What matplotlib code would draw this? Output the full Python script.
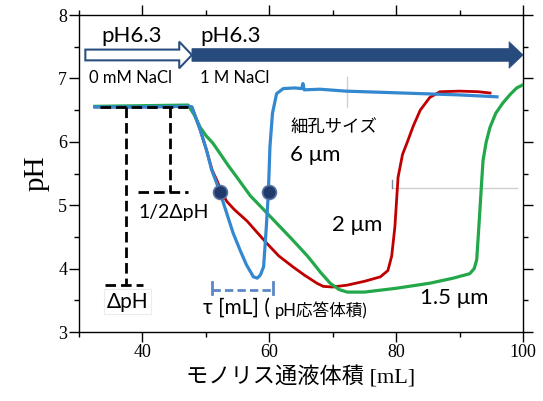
import matplotlib.pyplot as plt
from matplotlib.patches import FancyArrow
from matplotlib.ticker import MultipleLocator

# 細孔サイズ 6 μm
blue_x = [32.5, 40.0, 47.2, 47.8, 49.1, 50.1, 50.9, 51.7, 52.2, 53.3, 54.3, 55.4, 56.4, 57.5, 58.1,
          58.6, 59.1, 59.5, 59.85, 60.1, 60.5, 61.15, 62.2, 64.0, 65.1, 65.3, 65.5, 68.0, 72.0, 78.0,
          84.0, 90.0, 95.9]
blue_y = [6.55, 6.55, 6.56, 6.55, 6.19, 5.87, 5.56, 5.35, 5.21, 4.87, 4.56, 4.29, 4.06, 3.87, 3.85,
          3.90, 4.03, 4.61, 5.19, 5.92, 6.45, 6.76, 6.84, 6.85, 6.84, 6.92, 6.82, 6.83, 6.80, 6.78,
          6.76, 6.74, 6.71]

# 2 μm
red_x = [32.5, 40.0, 47.2, 47.8, 49.1, 50.1, 51.0, 51.8, 52.5, 53.3, 54.5, 56.5, 58.0, 59.6, 61.5,
         63.7, 65.5, 67.5, 68.5, 70.0, 72.3, 75.0, 77.5, 78.7, 79.3, 79.8, 80.3, 81.0, 81.7, 82.7,
         83.8, 85.3, 86.9, 90.0, 93.0, 94.8]
red_y = [6.55, 6.55, 6.56, 6.55, 6.19, 5.87, 5.55, 5.38, 5.20, 5.06, 4.93, 4.75, 4.58, 4.40, 4.20,
         4.03, 3.90, 3.77, 3.72, 3.71, 3.74, 3.80, 3.87, 3.97, 4.20, 4.66, 5.44, 5.80, 5.98, 6.25,
         6.50, 6.70, 6.79, 6.80, 6.79, 6.77]

# 1.5 μm
green_x = [32.5, 40.0, 47.2, 48.2, 49.1, 50.0, 51.1, 52.0, 53.5, 54.9, 57.0, 59.6, 61.7, 63.7, 66.0,
           66.9, 68.0, 69.6, 71.0, 72.3, 75.0, 77.5, 80.0, 85.3, 89.0, 91.6, 92.3, 92.7, 93.0, 93.2,
           93.5, 93.7, 94.2, 94.8, 95.7, 96.8, 98.0, 99.0, 100.0]
green_y = [6.56, 6.57, 6.58, 6.42, 6.23, 6.10, 5.98, 5.85, 5.63, 5.44, 5.15, 4.88, 4.66, 4.45, 4.20,
           4.09, 3.95, 3.77, 3.67, 3.63, 3.63, 3.66, 3.69, 3.77, 3.85, 3.92, 4.00, 4.14, 4.60, 4.92,
           5.40, 5.71, 6.00, 6.23, 6.45, 6.61, 6.75, 6.85, 6.90]

# 1/2ΔpH の点 (6 μm)
half_x = [52.2, 60.0]
half_y = [5.21, 5.21]

ph_top = 6.55
ph_half = 5.21
ph_min = 3.74

fig = plt.figure(figsize=(5.43, 4.01), dpi=100)
ax = fig.add_axes([0.1455, 0.172, 0.8177, 0.7905])

jp = ['Lato', 'Noto Sans CJK JP']
serif = ['Liberation Serif', 'Noto Sans CJK JP']

# 画像の枠の名残
ax.plot([72.3, 72.3], [6.55, 7.02], color='#d0d0d0', lw=1, zorder=1)
ax.plot([79.3, 99.0], [5.27, 5.27], color='#cfcfcf', lw=1, zorder=1)
ax.plot([79.3, 79.3], [5.27, 5.4], color='#7a8aa0', lw=1, zorder=1)

ax.plot(red_x, red_y, color='#c00000', lw=2.0, zorder=3)
ax.plot(green_x, green_y, color='#22a84a', lw=2.3, zorder=4)
ax.plot(blue_x, blue_y, color='#3388d0', lw=2.3, zorder=5)
ax.plot(half_x, half_y, 'o', ms=10, color='#1f3a6b', mec='#5673a3', mew=1.2, zorder=6)

# ΔpH と 1/2ΔpH の破線
dash = dict(color='black', lw=2.0, ls=(0, (3.8, 1.8)), zorder=7)
ax.plot([33.3, 47.2], [ph_top, ph_top], **dash)
ax.plot([37.4, 37.4], [ph_top, ph_min], **dash)
ax.plot([34.1, 40.1], [ph_min, ph_min], **dash)
ax.plot([44.35, 44.35], [ph_top, ph_half], **dash)
ax.plot([39.3, 47.2], [ph_half, ph_half], **dash)

# τ の範囲
bk = dict(color='#5b87c5', lw=2.0, ls=(0, (3, 1.5)), zorder=7)
ax.plot([half_x[0] - 1.2, half_x[1] + 0.6], [3.66, 3.66], **bk)
ax.plot([half_x[0] - 1.2, half_x[0] - 1.2], [3.6, 3.79], color='#5b87c5', lw=2.0)
ax.plot([half_x[1] + 0.6, half_x[1] + 0.6], [3.6, 3.79], color='#5b87c5', lw=2.0)

# 送液条件の矢印
ax.add_patch(FancyArrow(31.0, 7.37, 16.8, 0, width=0.17, head_width=0.42, head_length=2.0,
                        length_includes_head=True, fc='white', ec='#2a4f80', lw=1.5, zorder=8))
ax.add_patch(FancyArrow(47.8, 7.37, 52.2, 0, width=0.2, head_width=0.42, head_length=2.2,
                        length_includes_head=True, fc='#264b7c', ec='#264b7c', lw=0.5, zorder=8,
                        clip_on=False))

ax.text(33.6, 7.67, 'pH6.3', fontsize=16, family=jp, va='center')
ax.text(49.2, 7.67, 'pH6.3', fontsize=16, family=jp, va='center')
ax.text(31.6, 7.0, '0 mM NaCl', fontsize=12, family=jp, va='center')
ax.text(49.1, 7.0, '1 M NaCl', fontsize=12, family=jp, va='center')

ax.text(44.9, 4.88, '1/2ΔpH', fontsize=14, family=jp, ha='center', va='center')
ax.text(37.6, 3.48, 'ΔpH', fontsize=15, family=jp, ha='center', va='center',
        bbox=dict(fc='white', ec='#ececec', lw=0.8, pad=2), zorder=6)
ax.text(49.6, 3.38, 'τ [mL] (', fontsize=15, family=jp, va='center')
ax.text(60.9, 3.34, 'pH応答体積)', fontsize=12, family=jp, va='center')

ax.text(63.3, 6.23, '細孔サイズ', fontsize=12.5, family=jp, va='center')
ax.text(63.3, 5.79, '6 μm', fontsize=16, family=jp, va='center')
ax.text(69.9, 4.69, '2 μm', fontsize=16, family=jp, va='center')
ax.text(83.8, 3.54, '1.5 μm', fontsize=16, family=jp, va='center')

ax.set_xlim(30, 100)
ax.set_ylim(3, 8)
ax.xaxis.set_major_locator(MultipleLocator(20))
ax.xaxis.set_minor_locator(MultipleLocator(10))
ax.yaxis.set_major_locator(MultipleLocator(1))
ax.yaxis.set_minor_locator(MultipleLocator(0.5))
ax.tick_params(which='both', direction='out', top=True, right=True, width=1.0)
ax.tick_params(which='major', length=7, labelsize=13, pad=1.5)
ax.tick_params(which='minor', length=3.6)
for lab in ax.get_xticklabels() + ax.get_yticklabels():
    lab.set_family('Liberation Serif')
for sp in ax.spines.values():
    sp.set_linewidth(1.0)

ax.set_xlabel('モノリス通液体積 [mL]', fontsize=16, family=serif, labelpad=4)
ax.set_ylabel('pH', fontsize=21, family='Liberation Serif', labelpad=6)

fig.savefig('out.png', dpi=100)
